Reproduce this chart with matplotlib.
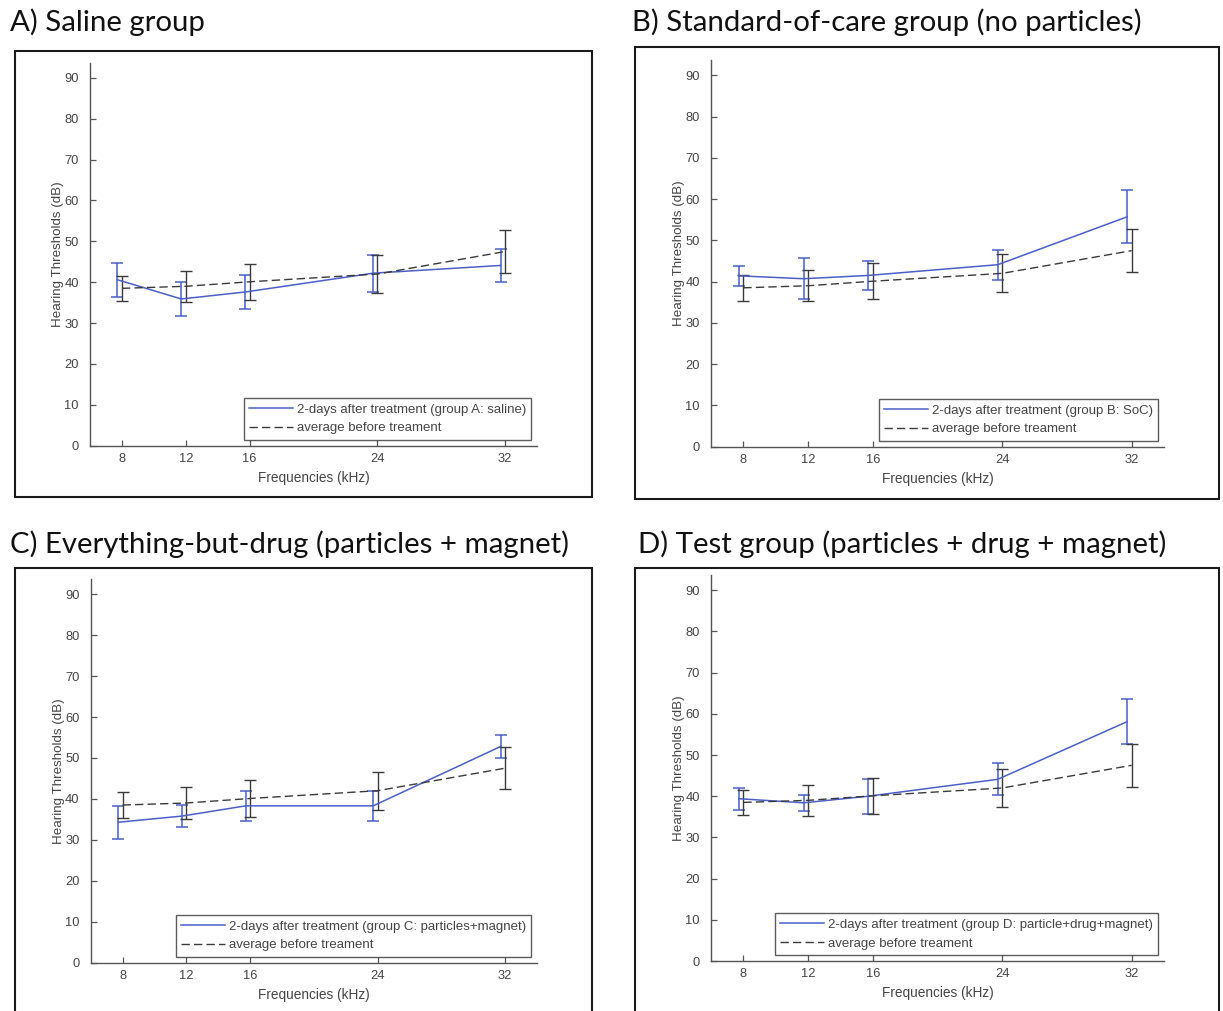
import matplotlib
matplotlib.use("Agg")
import matplotlib.pyplot as plt
from matplotlib.patches import Rectangle
from matplotlib.lines import Line2D

W, H = 1223, 1011

freqs = [8, 12, 16, 24, 32]
freq_labels = ["8", "12", "16", "24", "32"]
y_ticks = [0, 10, 20, 30, 40, 50, 60, 70, 80, 90]

before_mean = [38.5, 39.0, 40.1, 42.0, 47.5]
before_err = [3.1, 3.8, 4.4, 4.6, 5.2]

after_a_mean = [40.6, 35.9, 37.6, 42.2, 44.1]
after_a_err = [4.1, 4.1, 4.2, 4.5, 4.1]
after_b_mean = [41.4, 40.7, 41.5, 44.1, 55.7]
after_b_err = [2.5, 5.0, 3.5, 3.6, 6.4]
after_c_mean = [34.3, 35.8, 38.3, 38.3, 52.8]
after_c_err = [4.0, 2.6, 3.7, 3.7, 2.9]
after_d_mean = [39.4, 38.4, 40.0, 44.1, 58.1]
after_d_err = [2.7, 2.0, 4.2, 3.9, 5.4]

titles = [
    "A) Saline group",
    "B) Standard-of-care group (no particles)",
    "C) Everything-but-drug (particles + magnet)",
    "D) Test group (particles + drug + magnet)",
]
after_labels = [
    "2-days after treatment (group A: saline)",
    "2-days after treatment (group B: SoC)",
    "2-days after treatment (group C: particles+magnet)",
    "2-days after treatment (group D: particle+drug+magnet)",
]
before_label = "average before treament"

after_means = [after_a_mean, after_b_mean, after_c_mean, after_d_mean]
after_errs = [after_a_err, after_b_err, after_c_err, after_d_err]

BLUE = "#4a5fc8"
DARK = "#3a3a3a"
GREY_TXT = "#444444"
SHIFT = 0.28  # horizontal nudge so the two error bar sets don't overlap

# pixel layouts: (left, top, right, bottom)
axes_px = [
    (90, 62.7, 537, 445.7),
    (711, 60, 1164, 446.7),
    (90.7, 579, 537, 962.7),
    (711, 575, 1164, 961),
]
box_px = [
    (14.5, 51, 592, 496.5),
    (634.5, 47.5, 1219, 498.5),
    (14.5, 568, 592, 1030),
    (634.5, 568, 1219, 1030),
]
title_px = [(10, 22), (632, 22), (10, 544), (638, 544)]
YLABEL_OFFSET_PX = 26  # y-label anchor, left of the y spine

fig = plt.figure(figsize=(W / 100, H / 100), dpi=100)
fig.patch.set_facecolor("white")

for i in range(4):
    bl, bt, br, bb = box_px[i]
    fig.add_artist(Rectangle((bl / W, 1 - bb / H), (br - bl) / W, (bb - bt) / H,
                             transform=fig.transFigure, fill=False,
                             edgecolor="#1a1a1a", linewidth=1.5, clip_on=False))
    tx, ty = title_px[i]
    fig.text(tx / W, 1 - ty / H, titles[i], family="Lato", fontsize=21.2,
             color="#111111", ha="left", va="center")

    l, t, r, b = axes_px[i]
    ax = fig.add_axes([l / W, 1 - b / H, (r - l) / W, (b - t) / H])
    ax.set_facecolor("white")

    xa = [f - SHIFT for f in freqs]
    ax.errorbar(xa, after_means[i], yerr=after_errs[i], color=BLUE,
                linewidth=1.1, elinewidth=1.1, capsize=4.5, capthick=1.1)
    ax.errorbar(freqs, before_mean, yerr=before_err, color=DARK,
                linewidth=1.0, elinewidth=1.0, capsize=4.5, capthick=1.0,
                linestyle="--", dashes=(6, 3))

    ax.set_xlim(6, 34)
    ax.set_ylim(0, 93.7)
    ax.set_xticks(freqs)
    ax.set_xticklabels(freq_labels)
    ax.set_yticks(y_ticks)
    for s in ("top", "right"):
        ax.spines[s].set_visible(False)
    for s in ("left", "bottom"):
        ax.spines[s].set_color("#555555")
        ax.spines[s].set_linewidth(1.0)
    ax.tick_params(direction="in", length=4, width=0.9, color="#555555",
                   labelcolor=GREY_TXT, labelsize=9.3)
    ax.tick_params(axis="x", pad=5)
    ax.tick_params(axis="y", pad=8)
    for lab in ax.get_xticklabels() + ax.get_yticklabels():
        lab.set_family("Liberation Sans")

    ax.set_xlabel("Frequencies (kHz)", family="Liberation Sans", fontsize=9.8,
                  color=GREY_TXT, labelpad=4.5)
    ax.set_ylabel("Hearing Thresholds (dB)", family="Liberation Sans",
                  fontsize=9.6, color=GREY_TXT)
    ax.yaxis.set_label_coords(-YLABEL_OFFSET_PX / (r - l), 0.5)

    handles = [Line2D([], [], color=BLUE, linewidth=1.1),
               Line2D([], [], color=DARK, linewidth=1.0, linestyle="--",
                      dashes=(6, 3))]
    leg = ax.legend(handles, [after_labels[i], before_label], loc="lower right",
                    prop=dict(family="Liberation Sans", size=9.5),
                    frameon=True, fancybox=False, shadow=False,
                    borderaxespad=0.45, handlelength=3.3, handletextpad=0.3,
                    labelspacing=0.5, borderpad=0.4, labelcolor=GREY_TXT)
    fr = leg.get_frame()
    fr.set_edgecolor("#333333")
    fr.set_linewidth(1.0)

fig.savefig("out.png", dpi=100, facecolor="white")
